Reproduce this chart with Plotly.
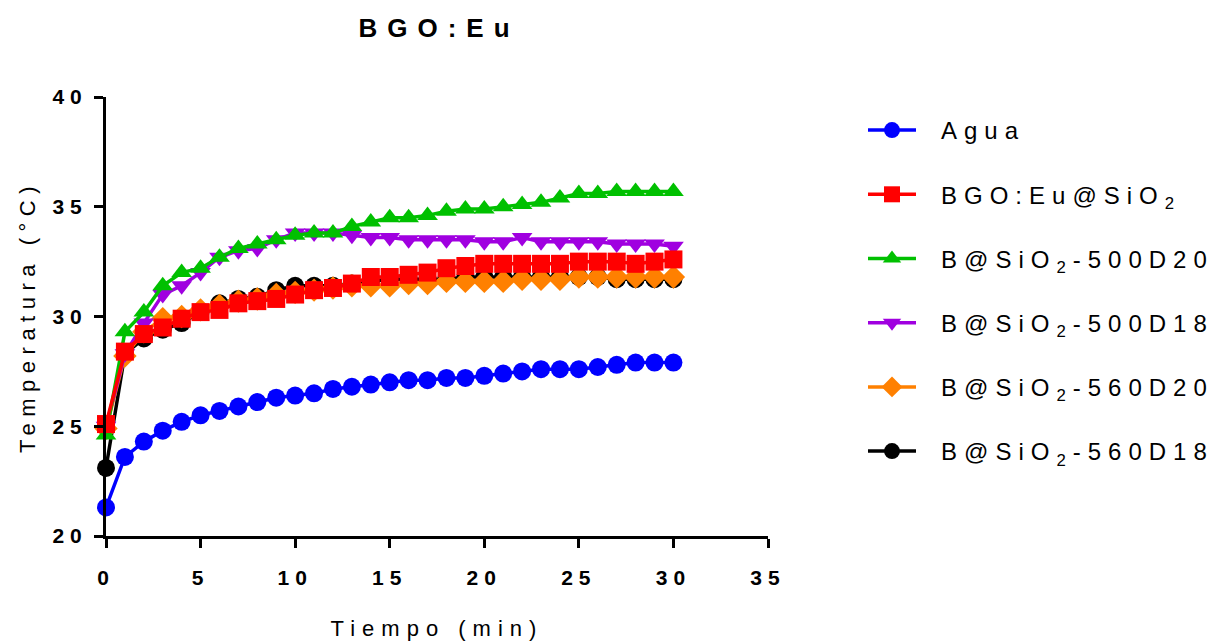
import plotly.graph_objects as go

tiempo = list(range(0, 31))
agua = [21.3, 23.6, 24.3, 24.8, 25.2, 25.5, 25.7, 25.9, 26.1, 26.3, 26.4, 26.5, 26.7, 26.8, 26.9, 27.0,
        27.1, 27.1, 27.2, 27.2, 27.3, 27.4, 27.5, 27.6, 27.6, 27.6, 27.7, 27.8, 27.9, 27.9, 27.9]
bgo_sio2 = [25.1, 28.4, 29.2, 29.5, 29.9, 30.2, 30.3, 30.6, 30.7, 30.8, 31.0, 31.2, 31.3, 31.5, 31.8, 31.8,
            31.9, 32.0, 32.2, 32.3, 32.4, 32.4, 32.4, 32.4, 32.4, 32.5, 32.5, 32.5, 32.4, 32.5, 32.6]
b500d20 = [24.6, 29.3, 30.2, 31.4, 32.0, 32.2, 32.7, 33.1, 33.3, 33.5, 33.7, 33.8, 33.8, 34.1, 34.3, 34.5,
           34.5, 34.6, 34.8, 34.9, 34.9, 35.0, 35.1, 35.2, 35.4, 35.6, 35.6, 35.7, 35.7, 35.7, 35.7]
b500d18 = [25.0, 28.3, 29.7, 31.0, 31.4, 32.0, 32.7, 33.0, 33.1, 33.5, 33.8, 33.8, 33.8, 33.7, 33.6, 33.6,
           33.5, 33.5, 33.5, 33.5, 33.4, 33.4, 33.6, 33.4, 33.4, 33.4, 33.4, 33.3, 33.3, 33.3, 33.2]
b560d20 = [24.9, 28.2, 29.3, 29.9, 30.0, 30.3, 30.5, 30.7, 30.8, 31.0, 31.1, 31.2, 31.3, 31.4, 31.4, 31.4,
           31.5, 31.5, 31.6, 31.6, 31.6, 31.6, 31.7, 31.7, 31.7, 31.8, 31.8, 31.8, 31.8, 31.8, 31.8]
b560d18 = [23.1, 28.3, 29.0, 29.4, 29.7, 30.2, 30.6, 30.8, 30.9, 31.2, 31.4, 31.4, 31.4, 31.5, 31.6, 31.7,
           31.7, 31.7, 31.7, 31.8, 31.8, 31.8, 31.8, 31.8, 31.8, 31.8, 31.8, 31.7, 31.7, 31.7, 31.7]

x_ticks = [0, 5, 10, 15, 20, 25, 30, 35]
y_ticks = [20, 25, 30, 35, 40]

FONT = "Liberation Sans, Arial, sans-serif"

# page has an 8px body margin: compensate so the plot lands where the reference has it
L, T = 98, 89
PW, PH = 662, 439
W, H = 1220, 643


def sp(text, ls=3):
    return f'<span style="letter-spacing:{ls}px">{text}</span>'


# (name, values, color, symbol, legend rank) in drawing order (bottom to top)
series = [
    ("Agua", agua, "#0000FF", "circle", 1),
    ("B@SiO<sub>2</sub>-560D18", b560d18, "#000000", "circle", 6),
    ("B@SiO<sub>2</sub>-560D20", b560d20, "#FF8000", "diamond", 5),
    ("B@SiO<sub>2</sub>-500D18", b500d18, "#A000E0", "triangle-down", 4),
    ("B@SiO<sub>2</sub>-500D20", b500d20, "#00C000", "triangle-up", 3),
    ("BGO:Eu@SiO<sub>2</sub>", bgo_sio2, "#FF0000", "square", 2),
]

fig = go.Figure()
for name, vals, color, sym, rank in series:
    fig.add_trace(go.Scatter(
        x=tiempo, y=vals, mode="lines+markers",
        name="\u00a0\u00a0\u00a0" + sp(name, 7),
        line=dict(color=color, width=3.5),
        marker=dict(color=color, symbol=sym, size=18, line=dict(width=0)),
        cliponaxis=False, legendrank=rank, legendgroup=name,
    ))

fig.update_layout(
    width=W, height=H,
    paper_bgcolor="white", plot_bgcolor="white",
    margin=dict(l=L, r=W - L - PW, t=T, b=H - T - PH, autoexpand=False),
    font=dict(family=FONT, color="black"),
    title=dict(text=sp("<b>BGO:Eu</b>", 10), x=431 / W, xanchor="center",
               y=1 - 20 / H, yanchor="middle", font=dict(size=26, family=FONT)),
    showlegend=True,
    legend=dict(x=(855 - L) / PW, xanchor="left", y=1 - (100 - T) / PH, yanchor="top",
                font=dict(size=24, family=FONT), tracegroupgap=30, traceorder="grouped",
                itemwidth=48, bgcolor="rgba(0,0,0,0)"),
)

fig.update_xaxes(
    range=[0, 35], tickvals=x_ticks, ticktext=[sp(f"<b>{v}</b>", 6) for v in x_ticks],
    showline=True, linecolor="black", linewidth=3, ticks="outside", ticklen=9, tickwidth=3,
    tickcolor="black", showgrid=False, zeroline=False, tickfont=dict(size=21, family=FONT),
    ticklabelstandoff=12,
    title=dict(text=sp("Tiempo (min)", 7), font=dict(size=22, family=FONT), standoff=33),
)
fig.update_yaxes(
    range=[20, 40], tickvals=y_ticks, ticktext=[sp(f"<b>{v}</b>", 6) for v in y_ticks],
    showline=True, linecolor="black", linewidth=3, ticks="outside", ticklen=9, tickwidth=3,
    tickcolor="black", showgrid=False, zeroline=False, tickfont=dict(size=21, family=FONT),
    ticklabelstandoff=2,
    title=dict(text=sp("Temperatura (°C)", 6.5), font=dict(size=22, family=FONT), standoff=11),
)

fig.write_html("out.html")
